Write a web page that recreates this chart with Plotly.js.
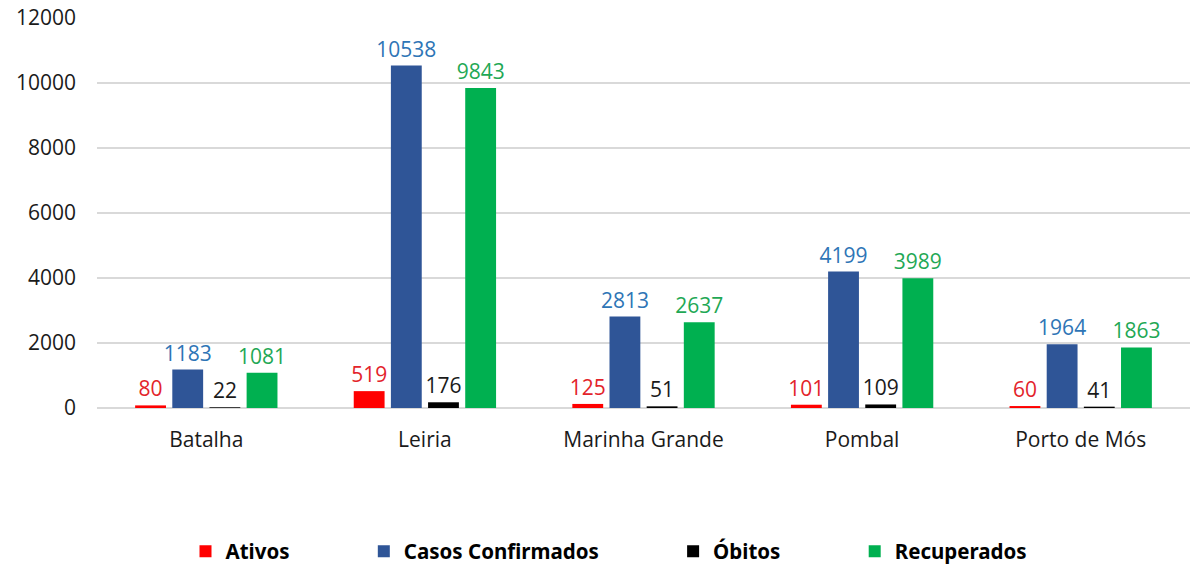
<!DOCTYPE html>
<html>
<head>
<meta charset="utf-8">
<script src="https://cdn.plot.ly/plotly-3.0.1.min.js"></script>
<style>
  body { margin: 0; background: #fff; }
  #myPlot { width: 1200px; height: 578px; }
</style>
</head>
<body>
<div id="myPlot"></div>
<script>
var concelhos = ["Batalha", "Leiria", "Marinha Grande", "Pombal", "Porto de Mós"];
var ativos = [80, 519, 125, 101, 60];
var confirmados = [1183, 10538, 2813, 4199, 1964];
var obitos = [22, 176, 51, 109, 41];
var recuperados = [1081, 9843, 2637, 3989, 1863];
var yTicks = [0, 2000, 4000, 6000, 8000, 10000, 12000];

var fnt = "Open Sans, Noto Sans, sans-serif";
// espaco extra depois de cada nome na legenda (como no original)
var pad = "\u00a0".repeat(13);

function serie(nome, valores, corBarra, corTexto) {
  return {
    type: "bar",
    name: nome + pad,
    x: concelhos,
    y: valores,
    marker: {color: corBarra},
    text: valores.map(String),
    textposition: "outside",
    constraintext: "none",
    cliponaxis: false,
    textfont: {family: fnt, size: 21, color: corTexto},
    hoverinfo: "x+y"
  };
}

var data = [
  serie("Ativos", ativos, "#ff0000", "#e3242b"),
  serie("Casos Confirmados", confirmados, "#2f5597", "#2e75b6"),
  serie("Óbitos", obitos, "#000000", "#1a1a1a"),
  serie("Recuperados", recuperados, "#00b050", "#1fa855")
];

var layout = {
  width: 1200,
  height: 578,
  margin: {l: 97, r: 10, t: 18, b: 170},
  paper_bgcolor: "#ffffff",
  plot_bgcolor: "#ffffff",
  barmode: "group",
  bargap: 0.32,
  bargroupgap: 0.17,
  font: {family: fnt, size: 21, color: "#1a1a1a"},
  xaxis: {
    type: "category",
    tickfont: {family: fnt, size: 21, color: "#1a1a1a"},
    ticks: "",
    ticklabelstandoff: 17,
    showline: false,
    showgrid: false
  },
  yaxis: {
    range: [0, 12000],
    tickvals: yTicks,
    ticktext: yTicks.map(String),
    tickfont: {family: fnt, size: 21, color: "#1a1a1a"},
    ticklabelstandoff: 20,
    gridcolor: "#d9d9d9",
    gridwidth: 1.5,
    zeroline: true,
    zerolinecolor: "#d9d9d9",
    zerolinewidth: 1.5,
    showline: false,
    ticklen: 0,
    ticks: ""
  },
  showlegend: true,
  legend: {
    orientation: "h",
    x: 0.5,
    xanchor: "center",
    yref: "container",
    y: 0.046,
    yanchor: "middle",
    font: {family: "Noto Sans, sans-serif", size: 20.5, color: "#000000", weight: "bold"},
    itemwidth: 30,
    traceorder: "normal"
  }
};

Plotly.newPlot("myPlot", data, layout, {displayModeBar: false, staticPlot: true});
</script>
</body>
</html>
